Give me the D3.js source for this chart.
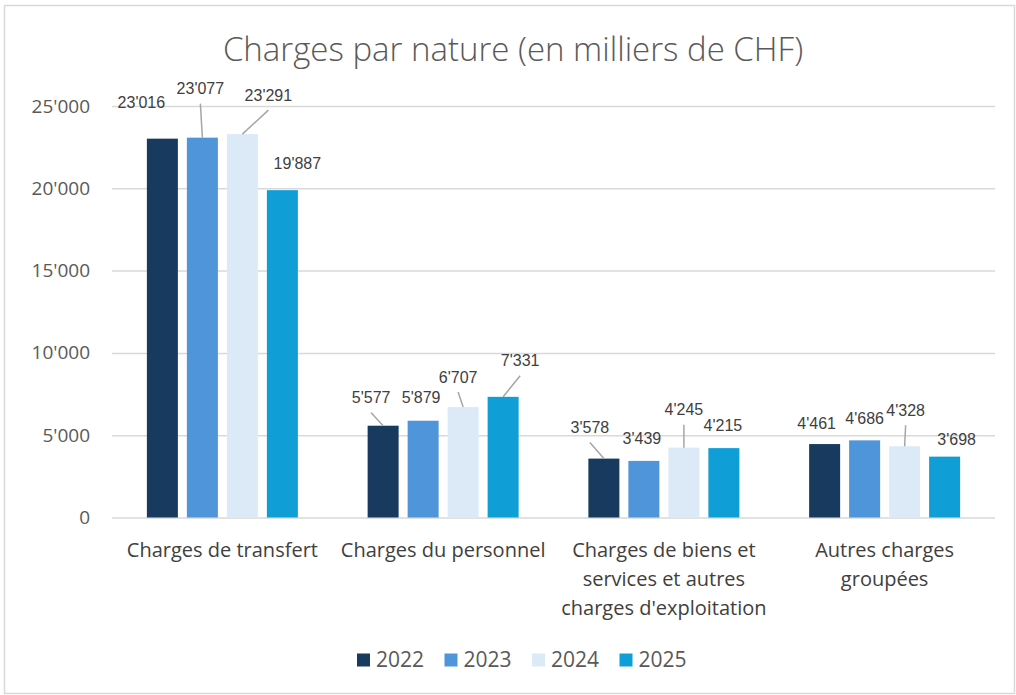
<!DOCTYPE html>
<html>
<head>
<meta charset="utf-8">
<script src="https://cdn.jsdelivr.net/npm/d3@7"></script>
<style>
  html, body { margin: 0; padding: 0; background: #fff; }
  svg { display: block; }
</style>
</head>
<body>
<script>
var width = 1016, height = 695;

var title = "Charges par nature (en milliers de CHF)";
var categories = ["Charges de transfert", "Charges du personnel",
  "Charges de biens et services et autres charges d'exploitation", "Autres charges groupées"];
var categoryLines = [["Charges de transfert"], ["Charges du personnel"],
  ["Charges de biens et", "services et autres", "charges d'exploitation"], ["Autres charges", "groupées"]];
var years = ["2022", "2023", "2024", "2025"];
var values2022 = [23016, 5577, 3578, 4461];
var values2023 = [23077, 5879, 3439, 4686];
var values2024 = [23291, 6707, 4245, 4328];
var values2025 = [19887, 7331, 4215, 3698];
var yTicks = [0, 5000, 10000, 15000, 20000, 25000];
var colours = ["#173a5e", "#4e95d9", "#dceaf7", "#0f9ed5"];

// label nudges (dx, dy from top of bar) and whether a leader line is drawn
var labelNudge = [
  [[-21, -36, 0], [-2, -49, 1], [26, -39, 1], [15, -27, 0]],
  [[-12, -28, 1], [-2, -23, 0], [-5, -30, 1], [17, -36, 1]],
  [[-14, -31, 1], [-2, -22, 0], [0, -38, 1], [-1, -23, 0]],
  [[-8, -21, 0], [0, -22, 0], [1, -36, 1], [12, -17, 0]]
];

var series = [values2022, values2023, values2024, values2025];
var fmt = d3.formatLocale({decimal: ".", thousands: "'", grouping: [3], currency: ["", ""]}).format(",d");

var svg = d3.select("body").append("svg").attr("width", width).attr("height", height);

svg.append("rect").attr("x", 4.5).attr("y", 5.5).attr("width", 1010).attr("height", 688)
  .attr("fill", "#fff").attr("stroke", "#d9d9d9").attr("stroke-width", 1.5);

var x = d3.scaleBand().domain(categories).range([112, 995]);
var xs = d3.scaleBand().domain(years).range([-75.5, 75.5]).paddingInner(0.225);
var y = d3.scaleLinear().domain([0, 25000]).range([517.5, 106]);

svg.append("text").attr("x", 513).attr("y", 61).attr("text-anchor", "middle")
  .attr("font-family", "Open Sans, sans-serif").attr("font-size", 33).attr("font-weight", 300)
  .attr("fill", "#595959").text(title);

var yAxis = svg.append("g").attr("transform", "translate(112,0)")
  .call(d3.axisLeft(y).tickValues(yTicks).tickSize(-883).tickPadding(22).tickFormat(fmt));
yAxis.select(".domain").remove();
yAxis.selectAll(".tick line").attr("stroke", "#d9d9d9").attr("stroke-width", 1.5);
yAxis.selectAll(".tick text").attr("font-family", "Open Sans, sans-serif").attr("font-size", 19)
  .attr("fill", "#595959");

var groups = svg.selectAll(".grp").data(categories).enter().append("g")
  .attr("class", "grp")
  .attr("transform", function(d) { return "translate(" + (x(d) + x.bandwidth() / 2) + ",0)"; });

groups.selectAll("rect").data(function(d, i) {
    return years.map(function(yr, j) { return {year: yr, j: j, ci: i, v: series[j][i]}; });
  }).enter().append("rect")
  .attr("x", function(d) { return xs(d.year); })
  .attr("y", function(d) { return y(d.v); })
  .attr("width", xs.bandwidth())
  .attr("height", function(d) { return y(0) - y(d.v); })
  .attr("fill", function(d) { return colours[d.j]; });

groups.each(function(c, i) {
  var g = d3.select(this);
  years.forEach(function(yr, j) {
    var v = series[j][i], n = labelNudge[i][j];
    var bx = xs(yr) + xs.bandwidth() / 2, by = y(v);
    var lx = bx + n[0], ly = by + n[1];
    if (n[2]) {
      g.append("line").attr("x1", bx).attr("y1", by).attr("x2", lx).attr("y2", ly + 15)
        .attr("stroke", "#a6a6a6").attr("stroke-width", 1.5);
    }
    g.append("text").attr("x", lx).attr("y", ly).attr("dy", "0.35em").attr("text-anchor", "middle")
      .attr("font-family", "Liberation Sans, Arial, sans-serif").attr("font-size", 16)
      .attr("fill", "#404040").text(fmt(v));
  });
  g.selectAll(".cat").data(categoryLines[i]).enter().append("text")
    .attr("x", 0).attr("y", function(d, k) { return 550 + k * 29; })
    .attr("dy", "0.35em").attr("text-anchor", "middle")
    .attr("font-family", "Open Sans, sans-serif").attr("font-size", 20)
    .attr("fill", "#404040").text(function(d) { return d; });
});

var legend = svg.selectAll(".leg").data(years).enter().append("g")
  .attr("transform", function(d, i) { return "translate(" + (357 + i * 87.5) + ",660)"; });
legend.append("rect").attr("x", 0).attr("y", -6.5).attr("width", 13).attr("height", 13)
  .attr("fill", function(d, i) { return colours[i]; });
legend.append("text").attr("x", 19).attr("y", 0).attr("dy", "0.35em")
  .attr("font-family", "Open Sans, sans-serif").attr("font-size", 21)
  .attr("fill", "#595959").text(function(d) { return d; });
</script>
</body>
</html>
